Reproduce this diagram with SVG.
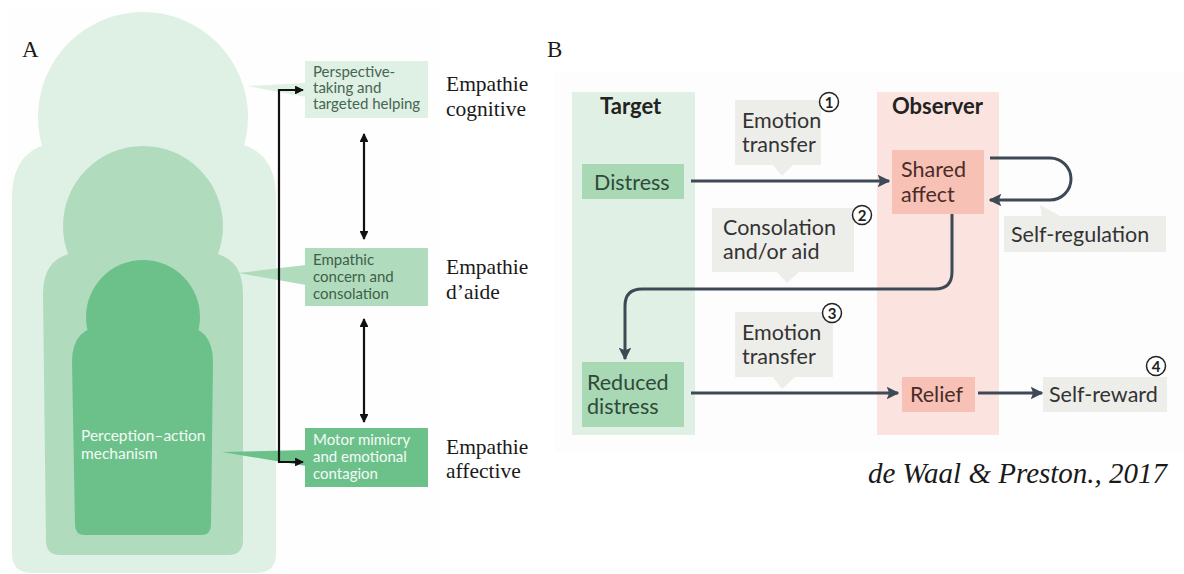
<svg xmlns="http://www.w3.org/2000/svg" width="1184" height="574" viewBox="0 0 1184 574">
<style>
.serif{font-family:"Liberation Serif","Times New Roman",serif;fill:#1a1a1a}
.boxa{font-family:Lato,"Open Sans",sans-serif;font-size:15px}
.lab{font-family:Lato,"Open Sans",sans-serif;font-size:21.5px}
.hdr{font-family:Lato,"Open Sans",sans-serif;font-size:22px;font-weight:bold;fill:#222}
.num{font-family:Lato,"Open Sans",sans-serif;font-size:15px;font-weight:bold;fill:#222;text-anchor:middle}
.c1{fill:#dff0e4}.c2{fill:#b1dbbd}.c3{fill:#6cc18b}
.call{fill:#ededea}
.ln{fill:none;stroke:#3d4955;stroke-width:3}
.bk{fill:none;stroke:#111;stroke-width:2.2}
.circ{fill:#fff;stroke:#222;stroke-width:1.5}
</style>
<defs>
<marker id="ab" viewBox="0 0 10 10" refX="9" refY="5" markerWidth="4" markerHeight="4" orient="auto-start-reverse"><path d="M0,0 L10,5 L0,10 z" fill="#111"/></marker>
<marker id="as" viewBox="0 0 10 10" refX="9" refY="5" markerWidth="4.2" markerHeight="4.2" orient="auto"><path d="M0,0 L10,5 L0,10 L2,5 z" fill="#3d4955"/></marker>
</defs>
<rect width="1184" height="574" fill="#fff"/>
<rect x="8" y="8" width="432" height="566" fill="#fefefe"/>
<rect x="555" y="72" width="629" height="380" fill="#fdfdfd"/>

<g id="panelA-label"><text class="serif" x="22" y="57" font-size="23">A</text></g>

<g id="outer-shape">
<circle class="c1" cx="143" cy="117" r="105"/>
<path class="c1" d="M12,198 Q12,142 67,142 L221,142 Q276,142 276,198 L276,553 Q276,573 256,573 L32,573 Q12,573 12,553 Z"/>
<polygon class="c1" points="248,86 306,83 306,97"/>
</g>
<g id="middle-shape">
<circle class="c2" cx="143" cy="226" r="80"/>
<path class="c2" d="M43,294 Q43,252 85,252 L201,252 Q243,252 243,294 L243,540 Q243,555 228,555 L60,555 Q46,555 46,540 Z"/>
<polygon class="c2" points="238,273 306,265 306,285"/>
</g>
<g id="inner-shape">
<circle class="c3" cx="143" cy="317" r="57"/>
<path class="c3" d="M72,362 Q72,326 106,326 L180,326 Q213,326 213,362 L211,525 Q211,535 201,535 L85,535 Q75,535 75,525 Z"/>
<polygon class="c3" points="222,452 306,450 306,466"/>
<text x="81" y="441" font-family="Lato,'Open Sans',sans-serif" font-size="15.5" fill="#f2fbf4">Perception–action</text>
<text x="81" y="459" font-family="Lato,'Open Sans',sans-serif" font-size="15.5" fill="#f2fbf4">mechanism</text>
</g>

<g id="boxA1">
<rect class="c1" x="305" y="61" width="123" height="57"/>
<text class="boxa" fill="#466552"><tspan x="313" y="77">Perspective-</tspan><tspan x="313" y="93">taking and</tspan><tspan x="313" y="109">targeted helping</tspan></text>
</g>
<g id="boxA2">
<rect class="c2" x="305" y="248" width="123" height="58"/>
<text class="boxa" fill="#3e5f4a"><tspan x="313" y="265">Empathic</tspan><tspan x="313" y="282">concern and</tspan><tspan x="313" y="299">consolation</tspan></text>
</g>
<g id="boxA3">
<rect class="c3" x="305" y="428" width="123" height="59"/>
<text class="boxa" fill="#f4fbf6"><tspan x="313" y="445">Motor mimicry</tspan><tspan x="313" y="462">and emotional</tspan><tspan x="313" y="479">contagion</tspan></text>
</g>

<g id="labelsA" class="serif" font-size="21.5">
<text x="446" y="91">Empathie</text><text x="446" y="116">cognitive</text>
<text x="446" y="274">Empathie</text><text x="446" y="299">d’aide</text>
<text x="446" y="454">Empathie</text><text x="446" y="478">affective</text>
</g>

<g id="connectorsA">
<path class="bk" d="M303,90 H279 V462 H303" marker-start="url(#ab)" marker-end="url(#ab)"/>
<line class="bk" x1="364" y1="134" x2="364" y2="239" marker-start="url(#ab)" marker-end="url(#ab)"/>
<line class="bk" x1="364" y1="319" x2="364" y2="422" marker-start="url(#ab)" marker-end="url(#ab)"/>
</g>

<g id="panelB-label"><text class="serif" x="547" y="57" font-size="23">B</text></g>

<g id="target-col">
<rect x="572" y="92" width="123" height="343" fill="#e0f0e4"/>
<text class="hdr" x="600" y="114">Target</text>
</g>
<g id="observer-col">
<rect x="877" y="92" width="122" height="343" fill="#fbe4df"/>
<text class="hdr" x="892" y="114">Observer</text>
</g>

<g id="distress">
<rect x="582" y="164" width="102" height="35" fill="#a9d8b5"/>
<text class="lab" x="594" y="190" fill="#2f4a3a">Distress</text>
</g>
<g id="reduced-distress">
<rect x="582" y="362" width="102" height="65" fill="#a9d8b5"/>
<text class="lab" fill="#2f4a3a"><tspan x="587" y="390">Reduced</tspan><tspan x="587" y="414">distress</tspan></text>
</g>
<g id="shared-affect">
<rect x="892" y="150" width="92" height="64" fill="#f8c1b6"/>
<text class="lab" fill="#4a2c27"><tspan x="901" y="177">Shared</tspan><tspan x="901" y="202">affect</tspan></text>
</g>
<g id="relief">
<rect x="902" y="377" width="73" height="35" fill="#f8c1b6"/>
<text class="lab" x="910" y="402" fill="#4a2c27">Relief</text>
</g>
<g id="self-reward">
<rect class="call" x="1043" y="377" width="124" height="35"/>
<text class="lab" x="1049" y="402" fill="#333">Self-reward</text>
<circle class="circ" cx="1156" cy="366" r="9.5"/><text class="num" x="1156" y="371.5">4</text>
</g>
<g id="self-regulation">
<rect class="call" x="1004" y="216" width="162" height="36"/>
<polygon class="call" points="1040,205 1042,217 1062,217"/>
<text class="lab" x="1011" y="242" fill="#333">Self-regulation</text>
</g>
<g id="callout1">
<rect class="call" x="735" y="100" width="86" height="65"/>
<polygon class="call" points="772,164 794,164 782,176"/>
<text class="lab" fill="#333"><tspan x="742" y="128">Emotion</tspan><tspan x="742" y="152">transfer</tspan></text>
<circle class="circ" cx="829" cy="102" r="9.5"/><text class="num" x="829" y="107.5">1</text>
</g>
<g id="callout2">
<rect class="call" x="712" y="208" width="142" height="64"/>
<polygon class="call" points="776,271 800,271 787,283"/>
<text class="lab" fill="#333"><tspan x="723" y="235">Consolation</tspan><tspan x="723" y="259">and/or aid</tspan></text>
<circle class="circ" cx="862" cy="215" r="9.5"/><text class="num" x="862" y="220.5">2</text>
</g>
<g id="callout3">
<rect class="call" x="735" y="312" width="98" height="65"/>
<polygon class="call" points="772,376 796,376 782,389"/>
<text class="lab" fill="#333"><tspan x="742" y="340">Emotion</tspan><tspan x="742" y="364">transfer</tspan></text>
<circle class="circ" cx="832" cy="313" r="9.5"/><text class="num" x="832" y="318.5">3</text>
</g>

<g id="connectorsB">
<line class="ln" x1="691" y1="181" x2="889" y2="181" marker-end="url(#as)"/>
<path class="ln" d="M990,158 H1050 A21,21 0 0 1 1050,200 H990" marker-end="url(#as)"/>
<path class="ln" d="M952,214 V272 Q952,289 935,289 H642 Q625,289 625,306 V359" marker-end="url(#as)"/>
<line class="ln" x1="691" y1="393" x2="898" y2="393" marker-end="url(#as)"/>
<line class="ln" x1="978" y1="393" x2="1042" y2="393" marker-end="url(#as)"/>
</g>

<g id="citation"><text class="serif" x="868" y="483" font-size="29" font-style="italic">de Waal &amp; Preston., 2017</text></g>
</svg>
